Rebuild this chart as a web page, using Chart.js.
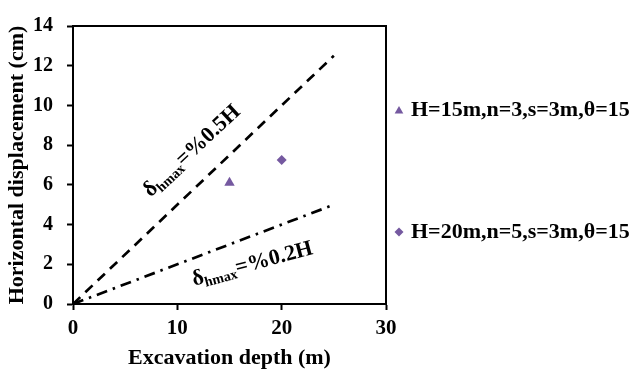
<!DOCTYPE html>
<html>
<head>
<meta charset="utf-8">
<script src="https://cdn.jsdelivr.net/npm/chart.js@4/dist/chart.umd.min.js"></script>
<style>
  body { margin: 0; background: #fff; }
  canvas { display: block; }
</style>
</head>
<body>
<canvas id="chart" width="633" height="376"></canvas>
<script>
"use strict";

// Data
const seriesNames = ["H=15m,n=3,s=3m,θ=15", "H=20m,n=5,s=3m,θ=15"];
const depthA = [15];
const dispA = [6.1];
const depthB = [20];
const dispB = [7.25];

// Reference lines (delta = 0.5% H and 0.2% H)
const refDepths = [0, 25];
const ref05 = [0, 12.5];
const ref02 = [0, 5];

const xTitle = "Excavation depth (m)";
const yTitle = "Horizontal displacement (cm)";

// Rotated labels next to the reference lines
const notes = [
  { x: 11.4, y: 7.7, angle: -43, sub: "hmax", rest: "=%0.5H" },
  { x: 17.2, y: 2.0, angle: -15, sub: "hmax", rest: "=%0.2H" },
];

const FONT = "'Liberation Serif', 'Times New Roman', serif";
const PURPLE = "#7559A0";

function toPoints(xs, ys) {
  return xs.map((v, i) => ({ x: v, y: ys[i] }));
}

const slopeLabels = {
  id: "slopeLabels",
  afterDatasetsDraw(chart) {
    const { ctx, scales } = chart;
    const main = "bold 22px " + FONT;
    const sub = "bold 14px " + FONT;
    notes.forEach((n) => {
      ctx.save();
      ctx.translate(scales.x.getPixelForValue(n.x), scales.y.getPixelForValue(n.y));
      ctx.rotate((n.angle * Math.PI) / 180);
      ctx.fillStyle = "#000";
      ctx.textBaseline = "middle";
      ctx.textAlign = "left";
      ctx.font = main;
      const w1 = ctx.measureText("δ").width;
      const w3 = ctx.measureText(n.rest).width;
      ctx.font = sub;
      const w2 = ctx.measureText(n.sub).width;
      let cx = -(w1 + w2 + w3) / 2;
      ctx.font = main;
      ctx.fillText("δ", cx, 0);
      cx += w1;
      ctx.font = sub;
      ctx.fillText(n.sub, cx, 6);
      cx += w2;
      ctx.font = main;
      ctx.fillText(n.rest, cx, 0);
      ctx.restore();
    });
  },
};

// Legend on the right, items spaced far apart like the original
const sideLegend = {
  id: "sideLegend",
  afterDraw(chart) {
    const { ctx, chartArea } = chart;
    const rows = [110, 232];
    seriesNames.forEach((name, i) => {
      const ds = chart.data.datasets[i];
      ctx.save();
      ctx.fillStyle = ds.backgroundColor;
      Chart.helpers.drawPoint(
        ctx,
        { pointStyle: ds.pointStyle, radius: i === 0 ? 5 : 4.5, rotation: 0, borderWidth: 0 },
        chartArea.right + 13,
        rows[i] + (i === 0 ? 1 : 0)
      );
      ctx.fillStyle = "#000";
      ctx.font = "bold 22px " + FONT;
      ctx.textBaseline = "middle";
      ctx.textAlign = "left";
      ctx.fillText(name, chartArea.right + 25, rows[i]);
      ctx.restore();
    });
  },
};

const tickFontY = { family: FONT, size: 20, weight: "bold" };
const tickFontX = { family: FONT, size: 21, weight: "bold" };
const titleFont = { family: FONT, size: 22, weight: "bold" };

new Chart(document.getElementById("chart"), {
  type: "scatter",
  data: {
    datasets: [
      {
        label: seriesNames[0],
        data: toPoints(depthA, dispA),
        pointStyle: "triangle",
        pointRadius: 6,
        backgroundColor: PURPLE,
        borderColor: PURPLE,
        borderWidth: 0,
      },
      {
        label: seriesNames[1],
        data: toPoints(depthB, dispB),
        pointStyle: "rectRot",
        pointRadius: 5,
        backgroundColor: PURPLE,
        borderColor: PURPLE,
        borderWidth: 0,
      },
      {
        label: "0.5H",
        data: toPoints(refDepths, ref05),
        showLine: true,
        pointRadius: 0,
        borderColor: "#000",
        borderWidth: 2.7,
        borderDash: [10, 7],
        fill: false,
      },
      {
        label: "0.2H",
        data: toPoints(refDepths, ref02),
        showLine: true,
        pointRadius: 0,
        borderColor: "#000",
        borderWidth: 2.7,
        borderDash: [11, 6, 2.5, 6],
        fill: false,
      },
    ],
  },
  options: {
    responsive: false,
    animation: false,
    devicePixelRatio: 1,
    layout: { padding: 0 },
    plugins: {
      legend: { display: false },
      tooltip: { enabled: false },
    },
    scales: {
      x: {
        type: "linear",
        position: "bottom",
        min: 0,
        max: 30,
        ticks: { stepSize: 10, color: "#000", font: tickFontX, padding: 6, maxRotation: 0 },
        grid: { display: true, drawOnChartArea: false, drawTicks: true, tickLength: 6, tickWidth: 2, tickColor: "#000" },
        border: { display: true, color: "#000", width: 2 },
        title: { display: true, text: xTitle, color: "#000", font: titleFont, padding: { top: 0, bottom: 4 } },
        afterFit: (s) => { s.height = 72; },
      },
      y: {
        type: "linear",
        position: "left",
        min: 0,
        max: 14,
        ticks: { stepSize: 2, color: "#000", font: tickFontY, padding: 14 },
        grid: { display: true, drawOnChartArea: false, drawTicks: true, tickLength: 6, tickWidth: 2, tickColor: "#000" },
        border: { display: true, color: "#000", width: 2 },
        title: { display: true, text: yTitle, color: "#000", font: titleFont, padding: { top: 4, bottom: 0 } },
        afterFit: (s) => { s.width = 73; },
      },
      x2: {
        type: "linear",
        position: "top",
        min: 0,
        max: 30,
        ticks: { display: false },
        grid: { display: false, drawTicks: false },
        border: { display: true, color: "#000", width: 2 },
        afterFit: (s) => { s.height = 16; },
      },
      y2: {
        type: "linear",
        position: "right",
        min: 0,
        max: 14,
        ticks: { display: false },
        grid: { display: false, drawTicks: false },
        border: { display: true, color: "#000", width: 2 },
        afterFit: (s) => { s.width = 247; },
      },
    },
  },
  plugins: [slopeLabels, sideLegend],
});
</script>
</body>
</html>
